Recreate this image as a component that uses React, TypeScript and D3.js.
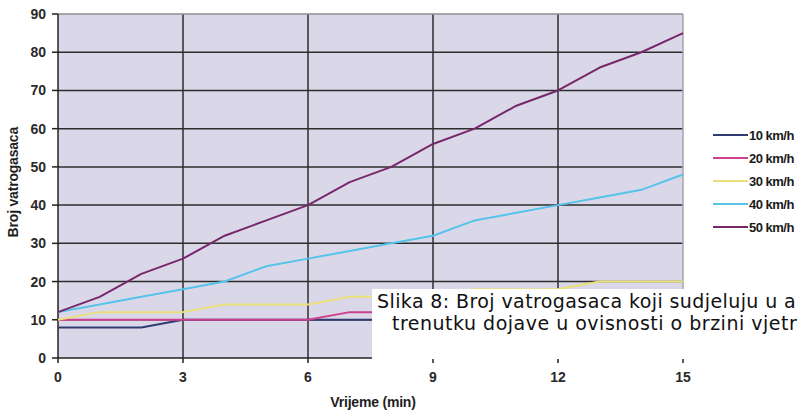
import React from "react";
import * as d3 from "d3";

const width = 799;
const height = 412;

const margin = { top: 14, right: 116, bottom: 54, left: 58 };

// vrijeme u minutama
const minutes = [0, 1, 2, 3, 4, 5, 6, 7, 8, 9, 10, 11, 12, 13, 14, 15];
const xTicks = [0, 3, 6, 9, 12, 15];
const yTicks = [0, 10, 20, 30, 40, 50, 60, 70, 80, 90];

// broj vatrogasaca po brzini vjetra (dio ispod natpisa je procjena)
const kmh10 = [8, 8, 8, 10, 10, 10, 10, 10, 10, 10, 12, 12, 12, 12, 14, 14];
const kmh20 = [10, 10, 10, 10, 10, 10, 10, 12, 12, 12, 14, 14, 14, 16, 16, 16];
const kmh30 = [10, 12, 12, 12, 14, 14, 14, 16, 16, 16, 18, 18, 18, 20, 20, 20];
const kmh40 = [12, 14, 16, 18, 20, 24, 26, 28, 30, 32, 36, 38, 40, 42, 44, 48];
const kmh50 = [12, 16, 22, 26, 32, 36, 40, 46, 50, 56, 60, 66, 70, 76, 80, 85];

const seriesNames = ["10 km/h", "20 km/h", "30 km/h", "40 km/h", "50 km/h"];
const seriesColors = ["#323a72", "#cc4290", "#eae07a", "#56c4ea", "#76286a"];

// natpis je u originalu odrezan desnim rubom slike
const captionLines = [
  "Slika 8: Broj vatrogasaca koji sudjeluju u a",
  "trenutku dojave u ovisnosti o brzini vjetr",
];

export default function App() {
  const series = [kmh10, kmh20, kmh30, kmh40, kmh50];

  const x = d3
    .scaleLinear()
    .domain([0, 15])
    .range([margin.left, width - margin.right]);
  const y = d3
    .scaleLinear()
    .domain([0, 90])
    .range([height - margin.bottom, margin.top]);

  const line = d3
    .line<number>()
    .x((d, i) => x(minutes[i]))
    .y((d) => y(d));

  const legendY = d3.scaleLinear().domain([0, 4]).range([135, 227]);

  const tickFont = "'Liberation Sans', Arial, sans-serif";
  const captionFont = "'DejaVu Sans', Verdana, sans-serif";

  return (
    <svg
      width={width}
      height={height}
      style={{ position: "absolute", left: 0, top: 0, background: "#fff" }}
    >
      <rect
        x={x(0)}
        y={y(90)}
        width={x(15) - x(0)}
        height={y(0) - y(90)}
        fill="#dad8e8"
      />

      {/* mreža */}
      {yTicks
        .filter((t) => t > 0 && t < 90)
        .map((t) => (
          <line
            key={"gy" + t}
            x1={x(0)}
            x2={x(15)}
            y1={y(t)}
            y2={y(t)}
            stroke="#2c2c2c"
            strokeWidth={1.5}
          />
        ))}
      {xTicks
        .filter((t) => t > 0 && t < 15)
        .map((t) => (
          <line
            key={"gx" + t}
            x1={x(t)}
            x2={x(t)}
            y1={y(0)}
            y2={y(90)}
            stroke="#2c2c2c"
            strokeWidth={1.5}
          />
        ))}
      <line x1={x(0)} x2={x(15)} y1={y(90)} y2={y(90)} stroke="#8e8e96" strokeWidth={1.5} />
      <line x1={x(15)} x2={x(15)} y1={y(0)} y2={y(90)} stroke="#a4a4ac" strokeWidth={1.5} />

      {/* osi */}
      <line x1={x(0)} x2={x(0)} y1={y(0)} y2={y(90)} stroke="#222" strokeWidth={1.5} />
      <line x1={x(0)} x2={x(15)} y1={y(0)} y2={y(0)} stroke="#222" strokeWidth={1.5} />
      {yTicks.map((t) => (
        <g key={"ty" + t}>
          <line x1={x(0) - 6} x2={x(0)} y1={y(t)} y2={y(t)} stroke="#222" strokeWidth={1.5} />
          <text
            x={x(0) - 12}
            y={y(t)}
            dy="0.36em"
            textAnchor="end"
            fontFamily={tickFont}
            fontWeight="bold"
            fontSize={14}
            fill="#2a2a2a"
          >
            {t}
          </text>
        </g>
      ))}
      {xTicks.map((t) => (
        <g key={"tx" + t}>
          <line x1={x(t)} x2={x(t)} y1={y(0)} y2={y(0) + 5} stroke="#222" strokeWidth={1.5} />
          <text
            x={x(t)}
            y={y(0) + 24}
            textAnchor="middle"
            fontFamily={tickFont}
            fontWeight="bold"
            fontSize={14}
            fill="#2a2a2a"
          >
            {t}
          </text>
        </g>
      ))}

      <text
        x={373}
        y={407}
        textAnchor="middle"
        fontFamily={tickFont}
        fontWeight="bold"
        fontSize={14}
        letterSpacing={-0.2}
        fill="#1e1e1e"
      >
        Vrijeme (min)
      </text>
      <text
        transform={`translate(18, ${y(46)}) rotate(-90)`}
        textAnchor="middle"
        fontFamily={tickFont}
        fontWeight="bold"
        fontSize={14}
        letterSpacing={-0.2}
        fill="#1e1e1e"
      >
        Broj vatrogasaca
      </text>

      {/* serije */}
      {series.map((s, i) => (
        <path
          key={seriesNames[i]}
          d={line(s) || ""}
          fill="none"
          stroke={seriesColors[i]}
          strokeWidth={2}
          strokeLinejoin="round"
        />
      ))}

      {/* legenda */}
      {seriesNames.map((name, i) => (
        <g key={"lg" + name}>
          <line
            x1={713}
            x2={748}
            y1={legendY(i)}
            y2={legendY(i)}
            stroke={seriesColors[i]}
            strokeWidth={2}
          />
          <text
            x={749}
            y={legendY(i)}
            dy="0.36em"
            fontFamily={tickFont}
            fontWeight="bold"
            fontSize={13}
            letterSpacing={-0.5}
            fill="#1a1a1a"
          >
            {name}
          </text>
        </g>
      ))}

      {/* natpis preko grafa */}
      <rect x={372} y={289} width={427} height={70} fill="#fff" />
      <text x={377} y={308} fontFamily={captionFont} fontSize={19} letterSpacing={0.4} fill="#111">
        {captionLines[0]}
      </text>
      <text x={392} y={330} fontFamily={captionFont} fontSize={19} letterSpacing={0.5} fill="#111">
        {captionLines[1]}
      </text>
    </svg>
  );
}
